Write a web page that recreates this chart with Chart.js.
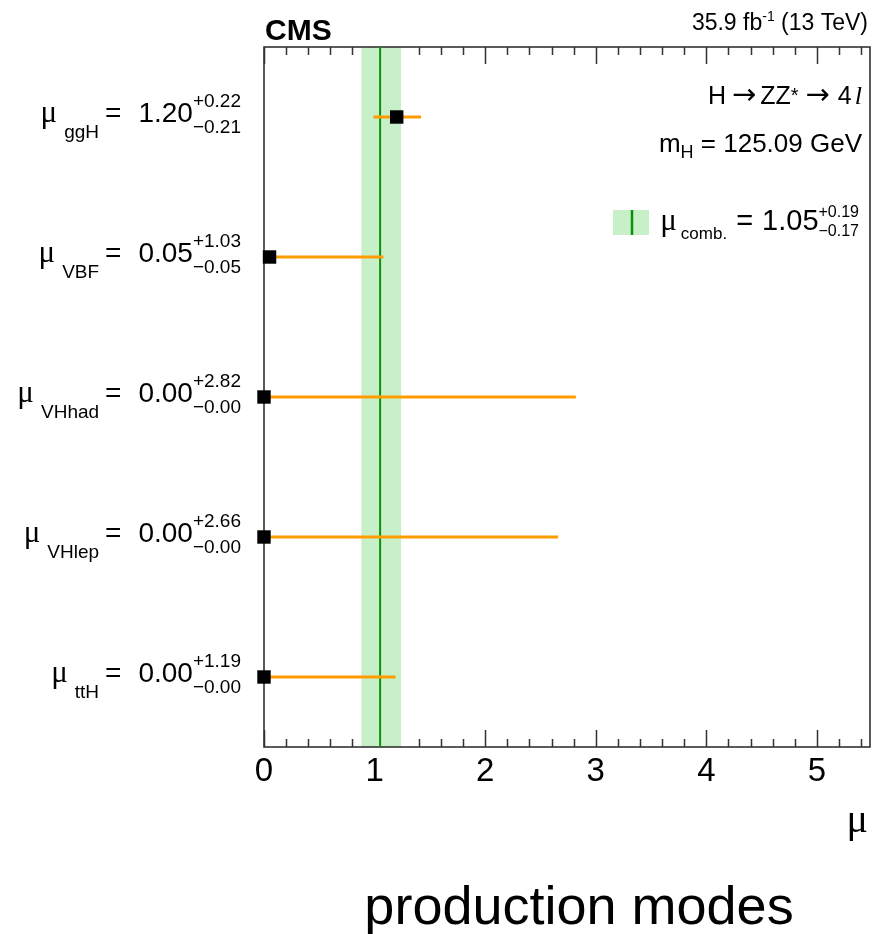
<!DOCTYPE html>
<html><head><meta charset="utf-8">
<script src="https://cdn.jsdelivr.net/npm/chart.js@4"></script>
<style>html,body{margin:0;padding:0;background:#fff;overflow:hidden}</style>
</head><body>
<canvas id="c" width="872" height="934" style="display:block;width:872px;height:934px"></canvas>
<script>
// ---- data ----
const modes = ['ggH', 'VBF', 'VHhad', 'VHlep', 'ttH'];
const muValues = [1.20, 0.05, 0.00, 0.00, 0.00];
const errUp = [0.22, 1.03, 2.82, 2.66, 1.19];
const errDown = [0.21, 0.05, 0.00, 0.00, 0.00];
const combValue = 1.05;
const combUp = 0.19;
const combDown = 0.17;
const xTickValues = [0, 1, 2, 3, 4, 5];
const xMin = 0, xMax = 5.48;

// ---- style ----
const ORANGE = '#ff9c00';
const BAND = '#c8f0c8';
const GREEN = '#0b900b';
const FRAME = '#333';
const SANS = '"Liberation Sans", Arial, Helvetica, sans-serif';
const SERIF = '"Liberation Serif", "Times New Roman", serif';

const rowY = i => modes.length - i - 0.5;
const fmt = v => v.toFixed(2);

function rich(ctx, xRight, baseline, parts) {
  const ws = parts.map(p => {
    ctx.font = p.font;
    let w = ctx.measureText(p.t).width;
    if (p.t2) w = Math.max(w, ctx.measureText(p.t2).width);
    return w;
  });
  let total = 0;
  parts.forEach((p, i) => total += (p.gap || 0) + ws[i]);
  let x = xRight - total;
  ctx.textAlign = 'left';
  ctx.textBaseline = 'alphabetic';
  parts.forEach((p, i) => {
    x += p.gap || 0;
    ctx.font = p.font;
    ctx.fillText(p.t, x, baseline + (p.dy || 0));
    if (p.t2) ctx.fillText(p.t2, x, baseline + (p.dy2 || 0));
    x += ws[i];
  });
}

const decor = {
  id: 'decor',
  beforeDatasetsDraw(chart) {
    const {ctx, chartArea: a, scales: {x}} = chart;
    ctx.save();
    ctx.strokeStyle = FRAME;
    ctx.lineWidth = 1.5;
    for (let k = 0; k * 0.2 <= xMax + 1e-9; k++) {
      const v = k * 0.2;
      const px = Math.round(x.getPixelForValue(v)) + 0.5;
      const len = (k % 5 === 0) ? 17 : 8;
      ctx.beginPath();
      ctx.moveTo(px, a.bottom); ctx.lineTo(px, a.bottom - len);
      ctx.moveTo(px, a.top); ctx.lineTo(px, a.top + len);
      ctx.stroke();
    }
    const x0 = x.getPixelForValue(combValue - combDown);
    const x1 = x.getPixelForValue(combValue + combUp);
    ctx.fillStyle = BAND;
    ctx.fillRect(x0, a.top, x1 - x0, a.bottom - a.top);
    ctx.strokeStyle = FRAME;
    ctx.lineWidth = 1.6;
    ctx.strokeRect(a.left, a.top, a.right - a.left, a.bottom - a.top);
    const xc = x.getPixelForValue(combValue);
    ctx.strokeStyle = GREEN;
    ctx.lineWidth = 2;
    ctx.beginPath(); ctx.moveTo(xc, a.top); ctx.lineTo(xc, a.bottom); ctx.stroke();
    ctx.restore();
  },
  afterDraw(chart) {
    const {ctx, chartArea: a, scales: {y}} = chart;
    ctx.save();
    ctx.fillStyle = '#000';
    const MAIN = '28px ' + SANS, SUP = '19px ' + SANS, SUB = '19px ' + SANS, MU = '31px ' + SERIF;
    modes.forEach((m, i) => {
      const yc = y.getPixelForValue(rowY(i));
      rich(ctx, a.left - 23, yc + 5, [
        {t: 'μ', font: MU},
        {t: m, font: SUB, dy: 16, gap: 7},
        {t: '=', font: MAIN, gap: 6},
        {t: fmt(muValues[i]), font: MAIN, gap: 17},
        {t: '+' + fmt(errUp[i]), t2: '\u2212' + fmt(errDown[i]), font: SUP, dy: -15, dy2: 11}
      ]);
    });
    // legend
    const lx = a.right - 257, ly = 210;
    ctx.fillStyle = BAND;
    ctx.fillRect(lx, ly, 36, 25);
    ctx.strokeStyle = GREEN; ctx.lineWidth = 2.5;
    ctx.beginPath(); ctx.moveTo(lx + 19, ly); ctx.lineTo(lx + 19, ly + 25); ctx.stroke();
    ctx.fillStyle = '#000';
    rich(ctx, a.right - 11, 230, [
      {t: 'μ', font: '31px ' + SERIF},
      {t: 'comb.', font: '17px ' + SANS, dy: 9, gap: 4},
      {t: '=', font: '29px ' + SANS, gap: 9},
      {t: fmt(combValue), font: '29px ' + SANS, gap: 9},
      {t: '+' + fmt(combUp), t2: '\u2212' + fmt(combDown), font: '16px ' + SANS, dy: -13, dy2: 6}
    ]);
    // top labels
    ctx.font = 'bold 30px ' + SANS;
    ctx.textAlign = 'left';
    ctx.fillText('CMS', a.left + 1, 40);
    rich(ctx, a.right - 2, 30, [
      {t: '35.9 fb', font: '23px ' + SANS},
      {t: '-1', font: '14px ' + SANS, dy: -9},
      {t: ' (13 TeV)', font: '23px ' + SANS}
    ]);
    rich(ctx, a.right - 8, 104, [
      {t: 'H', font: '25px ' + SANS},
      {t: '\u2192', font: '29px "DejaVu Sans", sans-serif', gap: 6},
      {t: 'ZZ', font: '25px ' + SANS, gap: 4},
      {t: '*', font: '20px ' + SANS, dy: -2},
      {t: '\u2192', font: '29px "DejaVu Sans", sans-serif', gap: 7},
      {t: '4', font: '25px ' + SANS, gap: 8},
      {t: 'l', font: 'italic 26px ' + SERIF, gap: 3}
    ]);
    rich(ctx, a.right - 8, 152, [
      {t: 'm', font: '26px ' + SANS},
      {t: 'H', font: '18px ' + SANS, dy: 6},
      {t: ' = 125.09 GeV', font: '26px ' + SANS}
    ]);
    // axis title
    ctx.font = '40px ' + SERIF;
    ctx.textAlign = 'right';
    ctx.fillText('μ', a.right - 2, 832);
    ctx.font = '54px ' + SANS;
    ctx.textAlign = 'center';
    ctx.fillText('production modes', 579, 924);
    ctx.restore();
  }
};

const datasets = [{
  label: 'modes',
  data: modes.map((m, i) => ({x: muValues[i], y: rowY(i)})),
  pointStyle: 'rect',
  pointRadius: 9.5,
  backgroundColor: '#000',
  borderColor: '#000',
  borderWidth: 0,
  clip: false,
  order: 0
}];
modes.forEach((m, i) => {
  datasets.push({
    label: 'err ' + m,
    data: [{x: muValues[i] - errDown[i], y: rowY(i)}, {x: muValues[i] + errUp[i], y: rowY(i)}],
    showLine: true,
    borderColor: ORANGE,
    borderWidth: 3,
    pointRadius: 0,
    order: 1
  });
});

new Chart(document.getElementById('c'), {
  type: 'scatter',
  data: {datasets},
  options: {
    responsive: false,
    animation: false,
    devicePixelRatio: 1,
    layout: {autoPadding: false, padding: {left: 264, right: 2, top: 47, bottom: 0}},
    plugins: {legend: {display: false}, tooltip: {enabled: false}},
    scales: {
      x: {
        type: 'linear', min: xMin, max: xMax,
        afterFit(s) { s.height = 934 - 747; s.paddingLeft = 0; s.paddingRight = 0; },
        grid: {display: false, drawTicks: false},
        border: {display: false},
        ticks: {
          stepSize: 1, includeBounds: false, autoSkip: false, maxRotation: 0,
          padding: 5, color: '#000',
          font: {family: SANS, size: 33},
          callback: v => xTickValues.includes(v) ? String(v) : ''
        }
      },
      y: {type: 'linear', min: 0, max: modes.length, display: false}
    }
  },
  plugins: [decor]
});
</script>
</body></html>
